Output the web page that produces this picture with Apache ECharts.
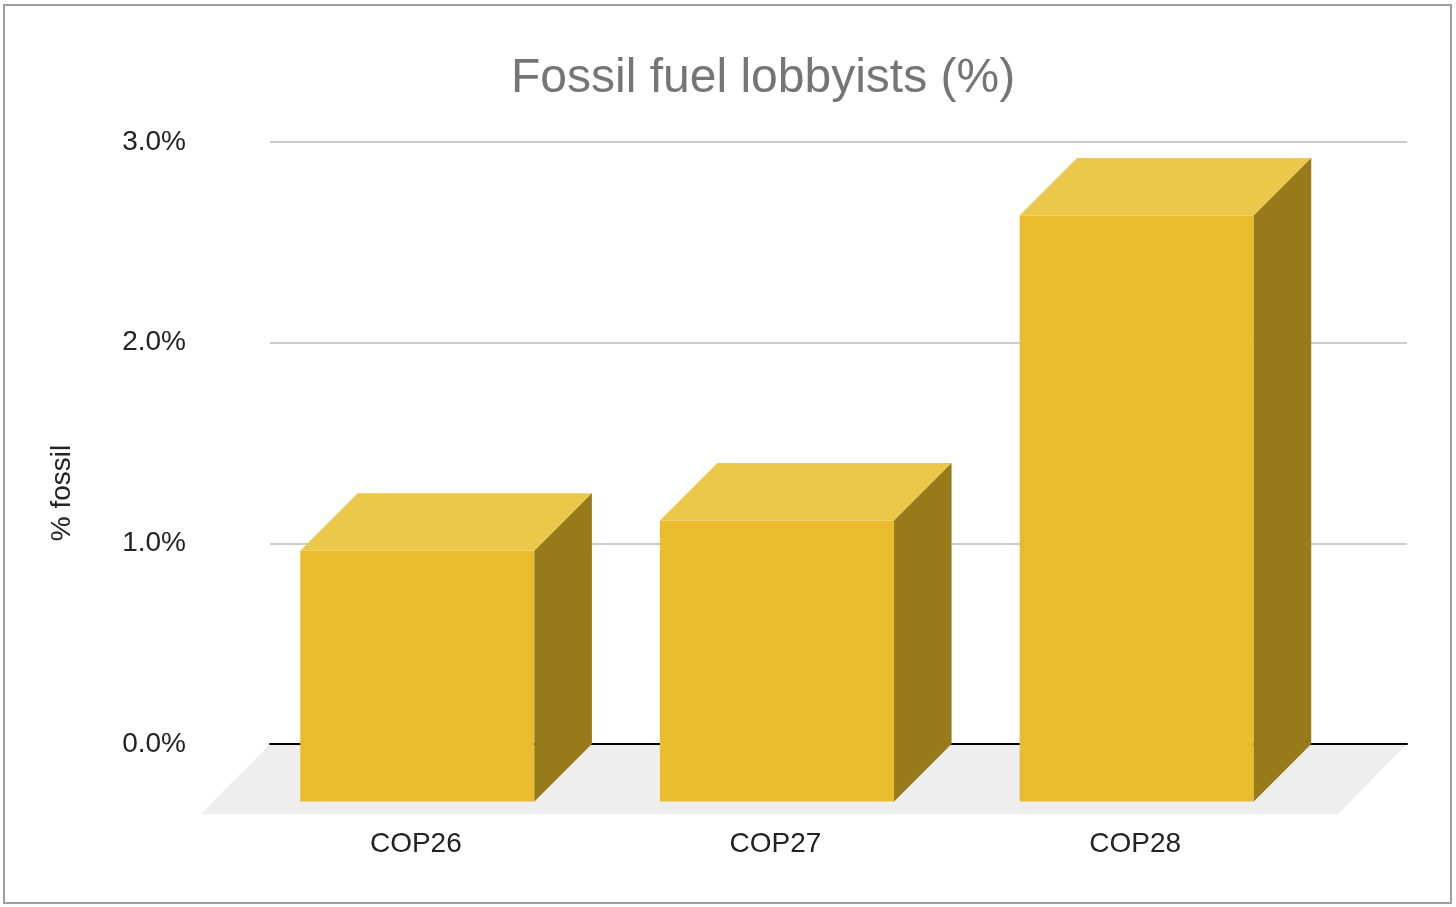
<!DOCTYPE html>
<html>
<head>
<meta charset="utf-8">
<style>
  html, body { margin: 0; padding: 0; background: #fff; }
  #chart { width: 1456px; height: 907px; }
</style>
<script src="https://cdn.jsdelivr.net/npm/echarts@6/dist/echarts.min.js"></script>
</head>
<body>
<div id="chart"></div>
<script>
// 数据
const categories = ['COP26', 'COP27', 'COP28']
const lobbyistShare = [1.25, 1.4, 2.92]
const yTicks = [0, 1, 2, 3]

const FONT = 'Liberation Sans, Arial, sans-serif'
// 3D效果: 柱子深度 (像素), 地板深度
const DEPTH = 57.5
const FLOOR_DX = 69
const FLOOR_DY = 70
const BAR_RATIO = 0.651

const myChart = echarts.init(document.getElementById('chart'))

const option = {
  backgroundColor: '#fff',
  animation: false,
  title: {
    text: 'Fossil fuel lobbyists (%)',
    left: 506,
    top: 50,
    textStyle: { fontFamily: FONT, fontSize: 48, fontWeight: 'normal', color: '#757575' }
  },
  graphic: [
    {
      type: 'rect',
      shape: { x: 4, y: 5, width: 1447, height: 898 },
      style: { fill: 'none', stroke: '#9e9e9e', lineWidth: 2 },
      silent: true
    },
    {
      // y轴标题
      type: 'text',
      x: 62, y: 493, rotation: Math.PI / 2,
      style: {
        text: '% fossil', fontFamily: FONT, fontSize: 28, fill: '#222',
        align: 'center', verticalAlign: 'middle'
      }
    }
  ],
  grid: [
    // 后墙 (网格线 + y轴)
    { left: 270, right: 49, top: 142, bottom: 163 },
    // 柱子 (类目居中于前表面)
    { left: 236, right: 141, top: 142, bottom: 163 }
  ],
  xAxis: [
    {
      gridIndex: 0, type: 'value', min: 0, max: 1, z: 2,
      axisLine: { show: true, lineStyle: { color: '#000', width: 2 } },
      axisTick: { show: false }, axisLabel: { show: false }, splitLine: { show: false }
    },
    {
      gridIndex: 1, type: 'category', data: categories,
      axisLine: { show: false }, axisTick: { show: false }, splitLine: { show: false },
      axisLabel: { margin: 86, fontFamily: FONT, fontSize: 28, color: '#222' }
    }
  ],
  yAxis: [
    {
      gridIndex: 0, type: 'value', min: yTicks[0], max: yTicks[yTicks.length - 1], interval: 1, z: 0,
      axisLine: { show: false }, axisTick: { show: false },
      axisLabel: {
        margin: 84, fontFamily: FONT, fontSize: 28, color: '#222', padding: [4, 0, 0, 0],
        formatter: v => v.toFixed(1) + '%'
      },
      splitLine: { lineStyle: { color: '#cccccc', width: 2 } }
    },
    {
      gridIndex: 1, type: 'value', min: yTicks[0], max: yTicks[yTicks.length - 1], show: false
    }
  ],
  series: [
    {
      // 地板
      type: 'custom',
      xAxisIndex: 0, yAxisIndex: 0, z: 1, silent: true,
      data: [[0, 0]],
      renderItem(params, api) {
        const cs = params.coordSys
        const y0 = api.coord([0, 0])[1]
        return {
          type: 'polygon',
          shape: {
            points: [
              [cs.x, y0], [cs.x + cs.width, y0],
              [cs.x + cs.width - FLOOR_DX, y0 + FLOOR_DY], [cs.x - FLOOR_DX, y0 + FLOOR_DY]
            ]
          },
          style: { fill: '#eeeeee' }
        }
      }
    },
    {
      // 3D柱子
      type: 'custom',
      xAxisIndex: 1, yAxisIndex: 1, z: 3,
      data: lobbyistShare.map((v, i) => [i, v]),
      renderItem(params, api) {
        const top = api.coord([api.value(0), api.value(1)])
        const base = api.coord([api.value(0), 0])
        const w = api.size([1, 0])[0] * BAR_RATIO
        const l = top[0] - w / 2 + 1.5
        const r = top[0] + w / 2 + 1.5
        const ft = top[1] + DEPTH
        const fb = base[1] + DEPTH
        return {
          type: 'group',
          children: [
            {
              type: 'polygon',
              shape: { points: [[l, ft], [r, ft], [r, fb], [l, fb]] },
              style: { fill: '#e9bc2e' }
            },
            {
              type: 'polygon',
              shape: { points: [[l, ft], [l + DEPTH, ft - DEPTH], [r + DEPTH, ft - DEPTH], [r, ft]] },
              style: { fill: '#ecc84a' }
            },
            {
              type: 'polygon',
              shape: { points: [[r, ft], [r + DEPTH, ft - DEPTH], [r + DEPTH, fb - DEPTH], [r, fb]] },
              style: { fill: '#977a1a' }
            }
          ]
        }
      }
    }
  ]
}

option && myChart.setOption(option)
window.addEventListener('resize', () => {
  myChart.resize()
})
</script>
</body>
</html>
